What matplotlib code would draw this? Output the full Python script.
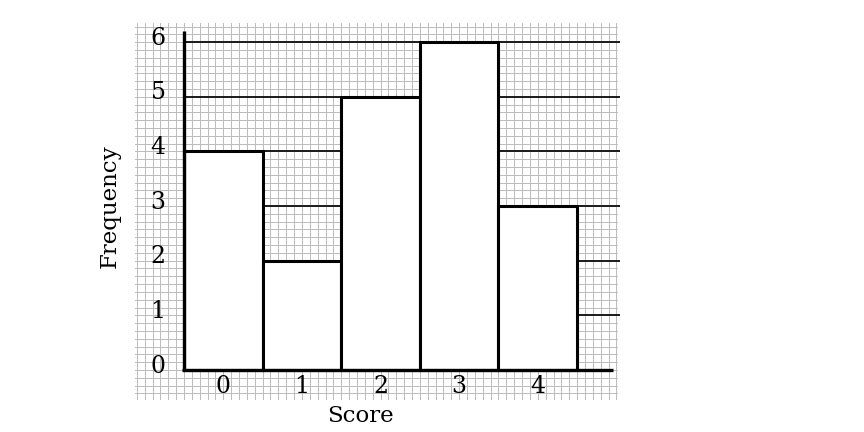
import matplotlib
matplotlib.use("Agg")
import matplotlib.pyplot as plt
import numpy as np

# ── data ────────────────────────────────────────────────────────────────
scores = [0, 1, 2, 3, 4]
freqs = [4, 2, 5, 6, 3]
y_ticks = [0, 1, 2, 3, 4, 5, 6]
x_label = "Score"
y_label = "Frequency"

plt.rcParams["font.family"] = ["DejaVu Serif"]

fig = plt.figure(figsize=(8.64, 4.32), dpi=100)
# axes = graph-paper area (px 135..618 x, 23..400 y)
ax = fig.add_axes([135 / 864, 1 - 400 / 432, (618 - 135) / 864, (400 - 23) / 432])
ax.set_xlim(-1.123, 5.02)
ax.set_ylim(-0.55, 6.35)

# graph paper (crisp 1 px lines)
for gx in np.arange(-11, 51) / 10:
    ax.axvline(gx, color="#bdbdbd", lw=0.72, zorder=0, antialiased=False)
for gy in np.arange(-3, 45) / 7:
    ax.axhline(gy, color="#bdbdbd", lw=0.72, zorder=0, antialiased=False)

# level lines behind the bars
for lv in y_ticks[1:]:
    ax.plot([-0.5, 5.05], [lv, lv], color="#1a1a1a", lw=1.4, zorder=1,
            clip_on=False, solid_capstyle="butt")

ax.bar(scores, freqs, width=1.0, color="white", edgecolor="black",
       linewidth=2.2, zorder=2)

# axes lines
ax.plot([-0.5, -0.5], [0, 6.2], color="black", lw=2.4, zorder=3,
        solid_capstyle="butt")
ax.plot([-0.52, 4.96], [0, 0], color="black", lw=2.4, zorder=3,
        solid_capstyle="butt")

# tick labels
for v in y_ticks:
    ax.text(-0.83, v + 0.07, str(v), ha="center", va="center", fontsize=17,
            zorder=4)
for s in scores:
    ax.text(s, -0.3, str(s), ha="center", va="center", fontsize=17, zorder=4)

ax.text(1.74, -0.84, x_label, ha="center", va="center", fontsize=16.5,
        clip_on=False)
ax.text(-1.44, 3.0, y_label, ha="center", va="center", rotation=90,
        fontsize=16.5, clip_on=False)

ax.axis("off")
fig.savefig("out.png", dpi=100)
